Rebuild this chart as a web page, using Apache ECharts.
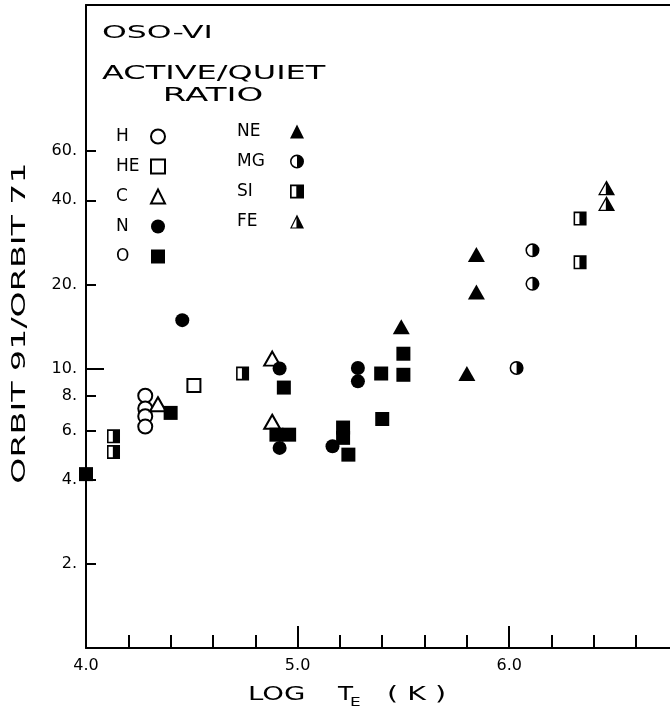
<!DOCTYPE html>
<html>
<head>
<meta charset="utf-8">
<script src="https://cdn.jsdelivr.net/npm/echarts@6/dist/echarts.min.js"></script>
<style>
    html, body { margin: 0; padding: 0; background: #fff; }
    #main { width: 670px; height: 712px; }
</style>
</head>
<body>
<div id="main"></div>
<script>
// active/quiet ratio per ion, [log Te, ratio]
const H  = [[4.28, 8.0], [4.28, 7.2], [4.28, 6.75], [4.28, 6.2]];
const HE = [[4.51, 8.7]];
const C  = [[4.34, 7.45], [4.88, 10.85], [4.88, 6.45]];
const N  = [[4.455, 14.9], [4.915, 10.0], [4.915, 5.2], [5.165, 5.27], [5.285, 10.05], [5.285, 9.0]];
const O  = [[4.0, 4.19], [4.40, 6.94], [4.935, 8.55], [4.90, 5.8], [4.96, 5.8], [5.215, 6.15],
            [5.215, 5.65], [5.24, 4.92], [5.395, 9.6], [5.40, 6.6], [5.50, 11.3], [5.50, 9.5]];
const NE = [[5.49, 14.1], [5.845, 25.6], [5.845, 18.8], [5.80, 9.6]];
const MG = [[6.11, 26.5], [6.11, 20.1], [6.035, 10.05]];
const SI = [[4.13, 5.72], [4.13, 5.03], [4.74, 9.6], [6.335, 34.4], [6.335, 24.0]];
const FE = [[6.46, 44.4], [6.46, 39.0]];

const xMinorTicks = [4.2, 4.4, 4.6, 4.8, 5.0, 5.2, 5.4, 5.6, 5.8, 6.0, 6.2, 6.4, 6.6];
const xMajorTicks = [5.0, 6.0];
const xTickLabels = [4.0, 5.0, 6.0];
const yTicks = [2, 4, 6, 8, 20, 40, 60];
const yLongTicks = [10];
const yTickLabels = [2, 4, 6, 8, 10, 20, 40, 60];

const legendLeft = ['H', 'HE', 'C', 'N', 'O'];
const legendRight = ['NE', 'MG', 'SI', 'FE'];

// half filled markers: ring + right half
const halfCircle = 'path://M50,0A50,50 0 1,1 50,100A50,50 0 1,1 50,0Z' +
    'M50,11A39,39 0 1,0 50,89A39,39 0 1,0 50,11Z' +
    'M50,0A50,50 0 0,1 50,100Z';
const halfSquare = 'path://M0,0H100V100H0ZM12,12V88H88V12ZM45,0H100V100H45Z';
const halfTriangle = 'path://M50,0L100,100L0,100ZM50,18L13,92L87,92ZM50,0L100,100L46,100L46,8Z';

const FONT = '"DejaVu Sans", sans-serif';

function pts(name, data, symbol, size) {
    return {
        name, type: 'scatter', data, symbol, symbolSize: size,
        clip: false,
        itemStyle: { color: '#000', opacity: 1 },
        emphasis: { disabled: true }
    };
}

function legendBox(names, left, top, textWidth) {
    return {
        data: names, orient: 'vertical', left, top, padding: 0,
        align: 'right', itemWidth: 14, itemHeight: 14, itemGap: 13, selectedMode: false,
        formatter: name => '{t|' + name + '}',
        textStyle: {
            color: '#000', fontSize: 17, fontFamily: FONT,
            rich: { t: { width: textWidth, height: 17, lineHeight: 17, align: 'left',
                         fontSize: 17, fontFamily: FONT, color: '#000' } }
        }
    };
}

let chart = echarts.init(document.getElementById('main'));

const axisLine = { show: true, lineStyle: { color: '#000', width: 2 } };

const option = {
    animation: false,
    backgroundColor: '#fff',
    textStyle: { fontFamily: FONT },
    grid: { left: 86, right: 0, top: 5, bottom: 64 },
    xAxis: [
        {
            type: 'value', min: 4, max: 6.76, position: 'bottom',
            axisLine,
            splitLine: { show: false },
            axisTick: { customValues: xMinorTicks, inside: true, length: 13, lineStyle: { color: '#000', width: 2 } },
            axisLabel: {
                customValues: xTickLabels, margin: 10, color: '#000', fontSize: 16, fontFamily: FONT,
                formatter: v => v.toFixed(1)
            }
        },
        {
            type: 'value', min: 4, max: 6.76, position: 'bottom', offset: 0,
            axisLine: { show: false },
            splitLine: { show: false },
            axisTick: { customValues: xMajorTicks, inside: true, length: 22, lineStyle: { color: '#000', width: 2 } },
            axisLabel: { show: false }
        },
        {
            type: 'value', min: 4, max: 6.76, position: 'top',
            axisLine,
            splitLine: { show: false },
            axisTick: { show: false },
            axisLabel: { show: false }
        }
    ],
    yAxis: [
        {
            type: 'log', logBase: 10, min: 1, max: 200, position: 'left',
            axisLine,
            splitLine: { show: false },
            minorTick: { show: false },
            axisTick: { customValues: yTicks, inside: true, length: 10, lineStyle: { color: '#000', width: 2 } },
            axisLabel: {
                customValues: yTickLabels, margin: 9, color: '#000', fontSize: 16, fontFamily: FONT,
                formatter: v => v + '.'
            }
        },
        {
            type: 'log', logBase: 10, min: 1, max: 200, position: 'left', offset: 0,
            axisLine: { show: false },
            splitLine: { show: false },
            axisTick: { customValues: yLongTicks, inside: true, length: 18, lineStyle: { color: '#000', width: 2 } },
            axisLabel: { show: false }
        }
    ],
    legend: [
        legendBox(legendLeft, 116, 128, 30),
        legendBox(legendRight, 237, 123, 48)
    ],
    graphic: [
        { type: 'text', x: 102, y: 33, scaleX: 1.75,
          style: { text: 'OSO-VI', fontSize: 18, fontFamily: FONT, fill: '#000', verticalAlign: 'middle' } },
        { type: 'text', x: 102, y: 74, scaleX: 1.6,
          style: { text: 'ACTIVE/QUIET', fontSize: 20, fontFamily: FONT, fill: '#000', verticalAlign: 'middle' } },
        { type: 'text', x: 213, y: 96, scaleX: 1.7,
          style: { text: 'RATIO', fontSize: 20, fontFamily: FONT, fill: '#000', align: 'center', verticalAlign: 'middle' } },
        { type: 'text', x: 20, y: 323, rotation: Math.PI / 2, scaleX: 1.75,
          style: { text: 'ORBIT 91/ORBIT 71', fontSize: 19, fontFamily: FONT, fill: '#000', align: 'center', verticalAlign: 'middle' } },
        { type: 'text', x: 248, y: 695, scaleX: 1.45,
          style: { text: 'LOG', fontSize: 19, fontFamily: FONT, fill: '#000', verticalAlign: 'middle' } },
        { type: 'text', x: 338, y: 695, scaleX: 1.3,
          style: { text: 'T', fontSize: 19, fontFamily: FONT, fill: '#000', verticalAlign: 'middle' } },
        { type: 'text', x: 350, y: 703, scaleX: 1.3,
          style: { text: 'E', fontSize: 13, fontFamily: FONT, fill: '#000', verticalAlign: 'middle' } },
        { type: 'text', x: 387, y: 695, scaleX: 1.5,
          style: { text: '( K )', fontSize: 19, fontFamily: FONT, fill: '#000', verticalAlign: 'middle' } }
    ],
    series: [
        pts('H', H, 'emptyCircle', 14),
        pts('HE', HE, 'emptyRect', 13),
        pts('C', C, 'emptyTriangle', [16, 14]),
        pts('O', O, 'rect', 14),
        pts('N', N, 'circle', 14),
        pts('NE', NE, 'triangle', [17, 15]),
        pts('MG', MG, halfCircle, 14),
        pts('SI', SI, halfSquare, [13, 14]),
        pts('FE', FE, halfTriangle, [17, 15])
    ]
};

chart.setOption(option);
</script>
</body>
</html>
